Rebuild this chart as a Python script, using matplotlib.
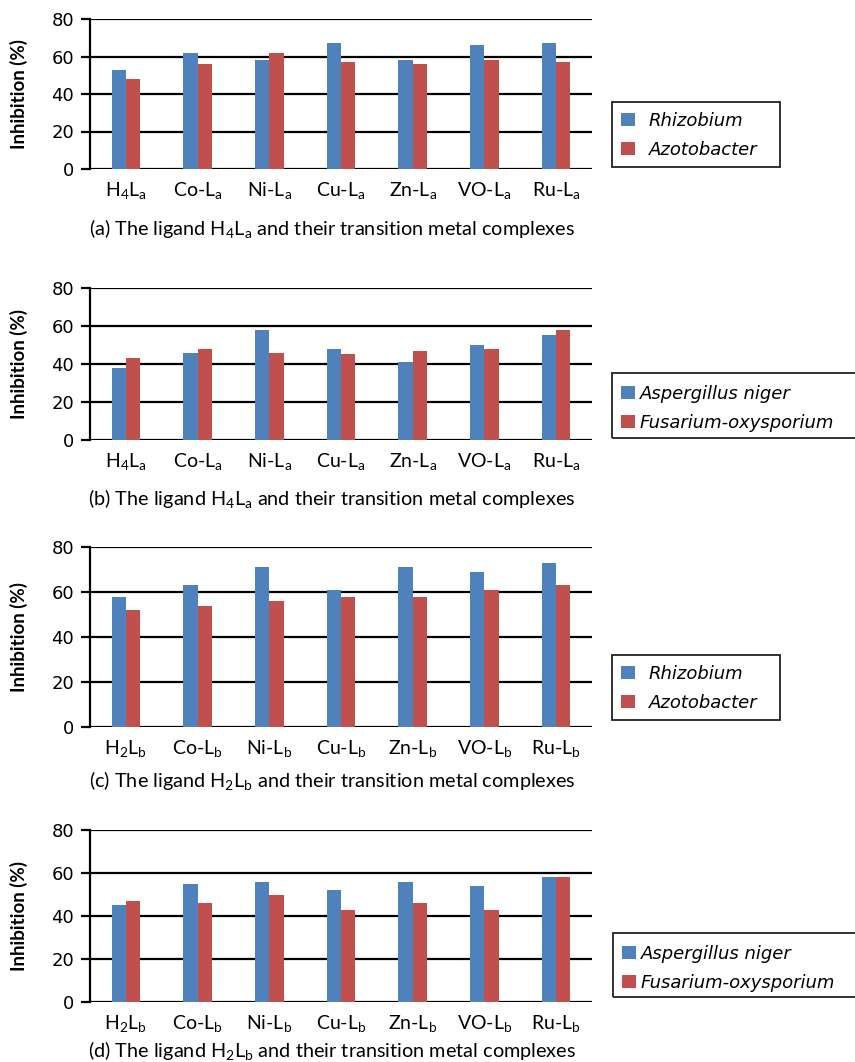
import numpy as np
import matplotlib
matplotlib.use('Agg')
import matplotlib.pyplot as plt
from matplotlib.patches import Rectangle

plt.rcParams['mathtext.fontset'] = 'custom'
plt.rcParams['mathtext.rm'] = 'Lato'
plt.rcParams['mathtext.it'] = 'Lato:italic'

labels_a = [r'H$_\mathrm{4}$L$_\mathrm{a}$', r'Co-L$_\mathrm{a}$', r'Ni-L$_\mathrm{a}$',
            r'Cu-L$_\mathrm{a}$', r'Zn-L$_\mathrm{a}$', r'VO-L$_\mathrm{a}$', r'Ru-L$_\mathrm{a}$']
labels_b = [r'H$_\mathrm{2}$L$_\mathrm{b}$', r'Co-L$_\mathrm{b}$', r'Ni-L$_\mathrm{b}$',
            r'Cu-L$_\mathrm{b}$', r'Zn-L$_\mathrm{b}$', r'VO-L$_\mathrm{b}$', r'Ru-L$_\mathrm{b}$']

bacteria = ['Rhizobium', 'Azotobacter']
fungi = ['Aspergillus niger', 'Fusarium-oxysporium']

# inhibition (%) for each panel
rhizobium_a = [53, 62, 58, 67, 58, 66, 67]
azotobacter_a = [48, 56, 62, 57, 56, 58, 57]
aspergillus_a = [38, 46, 58, 48, 41, 50, 55]
fusarium_a = [43, 48, 46, 45, 47, 48, 58]
rhizobium_b = [58, 63, 71, 61, 71, 69, 73]
azotobacter_b = [52, 54, 56, 58, 58, 61, 63]
aspergillus_b = [45, 55, 56, 52, 56, 54, 58]
fusarium_b = [47, 46, 50, 43, 46, 43, 58]

captions = [r'(a) The ligand H$_\mathrm{4}$L$_\mathrm{a}$ and their transition metal complexes',
            r'(b) The ligand H$_\mathrm{4}$L$_\mathrm{a}$ and their transition metal complexes',
            r'(c) The ligand H$_\mathrm{2}$L$_\mathrm{b}$ and their transition metal complexes',
            r'(d) The ligand H$_\mathrm{2}$L$_\mathrm{b}$ and their transition metal complexes']

blue = '#4F81BD'
red = '#C0504D'

W, H = 855, 1062
fig = plt.figure(figsize=(W / 100, H / 100), dpi=100)

# axes top/bottom, caption y, legend box (x0, y0, x1, y1) -- all in px from top-left
panels = [
    (19, 169, 229, (612, 102, 780, 167), labels_a, rhizobium_a, azotobacter_a, bacteria),
    (288, 440, 499, (612, 373, 860, 438), labels_a, aspergillus_a, fusarium_a, fungi),
    (547, 727, 781, (612, 655, 780, 720), labels_b, rhizobium_b, azotobacter_b, bacteria),
    (830, 1002, 1050, (613, 933, 860, 997), labels_b, aspergillus_b, fusarium_b, fungi),
]

left, right = 90, 592
bw = 0.2
for i, (top, bot, cap_y, box, labels, s1, s2, names) in enumerate(panels):
    ax = fig.add_axes([left / W, 1 - bot / H, (right - left) / W, (bot - top) / H])
    x = np.arange(len(labels))
    b1 = ax.bar(x - bw / 2, s1, bw, color=blue, zorder=3)
    b2 = ax.bar(x + bw / 2, s2, bw, color=red, zorder=3)
    ax.set_xlim(-0.5, 6.5)
    ax.set_ylim(0, 80)
    ax.set_yticks([0, 20, 40, 60, 80])
    ax.yaxis.grid(True, color='black', linewidth=1.6, zorder=0)
    ax.set_axisbelow(True)
    for s in ['top', 'right', 'bottom']:
        ax.spines[s].set_visible(False)
    ax.spines['left'].set_linewidth(1.6)
    ax.set_xticks(x)
    ax.set_xticklabels(labels, fontfamily='Lato', fontsize=14)
    ax.tick_params(axis='x', length=0, pad=8)
    ax.tick_params(axis='y', length=6.5, width=1.6, pad=5, labelsize=13)
    ax.set_ylabel('Inhibition (%)', fontfamily='Lato', fontweight='bold', fontsize=13.5)
    ax.yaxis.set_label_coords(-0.124, 0.5)

    fig.text(332 / W, 1 - cap_y / H, captions[i],
             ha='center', va='center', fontfamily='Lato', fontsize=14.3)

    # legend frame
    x0, y0, x1, y1 = box
    fig.patches.append(Rectangle((x0 / W, 1 - y1 / H), (x1 - x0) / W, (y1 - y0) / H,
                                 transform=fig.transFigure, fill=False,
                                 edgecolor='#222222', linewidth=1.3))
    wide = names == fungi
    fig.legend([b1, b2], names, loc='upper left',
               bbox_to_anchor=(x0 / W, 1 - (y0 + (3 if wide else 1)) / H),
               frameon=False, prop={'style': 'italic', 'size': 13},
               handlelength=0.75, handleheight=0.75,
               handletextpad=0.3 if wide else 0.8,
               labelspacing=0.6, borderpad=0.5, borderaxespad=0)

plt.savefig('out.png', dpi=100)
